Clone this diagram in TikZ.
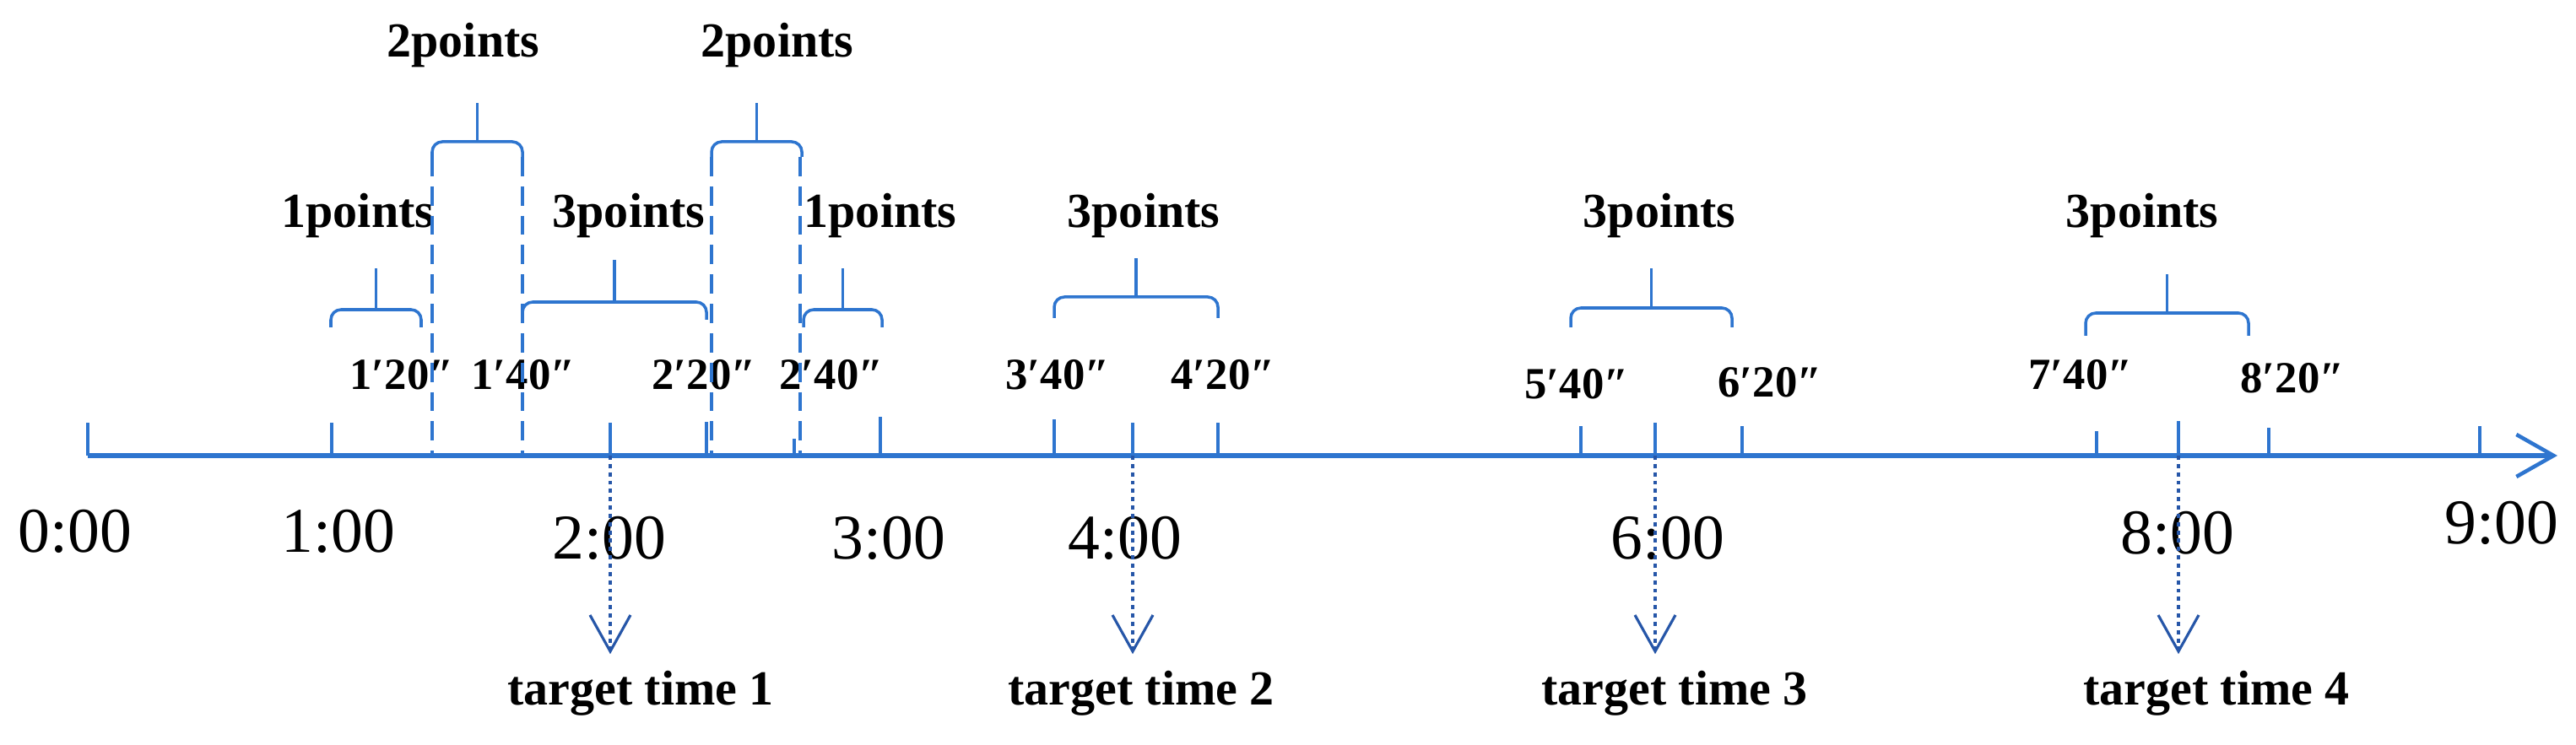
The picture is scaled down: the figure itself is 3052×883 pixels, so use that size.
\documentclass[tikz,border=0pt]{standalone}
\usepackage{fontspec}
\setmainfont{Liberation Serif}
\usetikzlibrary{arrows.meta,calc}
\definecolor{axisblue}{RGB}{46,117,207}
\definecolor{arrowblue}{RGB}{38,86,168}
\tikzset{
  axisline/.style={axisblue,line width=1.5pt,-{Straight Barb[length=4.4mm,width=5mm,line width=1.3pt]}},
  tickline/.style={axisblue,line width=0.9pt},
  brk/.style={axisblue,line width=1pt,rounded corners=1.2mm},
  brkdash/.style={axisblue,line width=1pt,dash pattern=on 6.5pt off 3.4pt},
  target/.style={arrowblue,line width=0.9pt,dash pattern=on 1.4pt off 1.4pt,-{Straight Barb[length=4.3mm,width=4.8mm,line width=0.9pt]}},
  pts/.style={font=\fontsize{16.5}{18}\selectfont\bfseries,inner sep=1pt},
  sec/.style={font=\fontsize{15}{17}\selectfont\bfseries,inner sep=1pt},
  hour/.style={font=\fontsize{21.5}{24}\selectfont,inner sep=1pt},
}
\begin{document}
\begin{tikzpicture}[x=0.01cm,y=-0.01cm]
  \useasboundingbox (0,0) rectangle (3052,883);
  \coordinate (start) at (104,540);
  \coordinate (end) at (3030,540);
  \draw[axisline] (start) -- (end);
  \foreach \x/\top/\name in {%
    104/501/h0,393/501/h1,723/501/h2,837/500/k2b,941/520/k2c,
    1043/494/h3,1249/497/k3,1342/501/h4,1443/501/k4,
    1873/505/k5,1961/501/h6,2064/505/k6,
    2484/511/k7,2581/499/h8,2688/507/k8,2938/505/h9}{%
      \coordinate (\name) at (\x,540);
      \draw[tickline] (\name) -- (\x,\top);
    }
  \foreach \x/\y/\t/\name in {%
    89/630/0:00/n0,401/630/1:00/n1,722/638/2:00/n2,1053/638/3:00/n3,
    1333/638/4:00/n4,1976/638/6:00/n6,2580/632/8:00/n8,2964/620/9:00/n9}{%
      \node[hour] (\name) at (\x,\y) {\t};
    }
  \foreach \x/\y/\t/\name in {%
    476/444/1′20″/s1a,620/444/1′40″/s1b,834/444/2′20″/s2a,985/444/2′40″/s2b,
    1253/444/3′40″/s3,1449/444/4′20″/s4,1868/455/5′40″/s5,2097/453/6′20″/s6,
    2465/444/7′40″/s7,2716/448/8′20″/s8}{%
      \node[sec] (\name) at (\x,\y) {\t};
    }
  \foreach \xa/\xb/\yb/\yl/\ys/\lx/\ly/\t/\name in {%
    392/499/367/388/318/424/256/1points/pa,
    512/619/168/186/122/549/54/2points/pb,
    619/837/358/379/308/745/256/3points/pc,
    843/950/168/186/122/921/54/2points/pd,
    952/1045/367/388/318/1043/256/1points/pe,
    1249/1443/352/377/306/1355/256/3points/pf,
    1861/2052/365/388/318/1966/256/3points/pg,
    2471/2664/371/398/325/2538/256/3points/ph}{%
      \node[pts] (\name) at (\lx,\ly) {\t};
      \coordinate (\name-m) at ($(\xa,\yb)!.5!(\xb,\yb)$);
      \coordinate (\name-s) at ($(\name-m)+(0,\ys-\yb)$);
      \draw[brk] (\xa,\yl) -- (\xa,\yb) -- (\xb,\yb) -- (\xb,\yl);
      \draw[brk] (\name-m) -- (\name-s);
    }
  \foreach \x in {512,619,843,948}{%
    \draw[brkdash] (\x,186) -- (\x,538);
  }
  \foreach \h/\x/\n in {h2/759/1,h4/1352/2,h6/1984/3,h8/2626/4}{%
    \node[pts] (t\n) at (\x,822) {target time \n};
    \draw[target,shorten >=1.6mm] (\h) -- (\h |- t\n.north);
  }
\end{tikzpicture}
\end{document}
